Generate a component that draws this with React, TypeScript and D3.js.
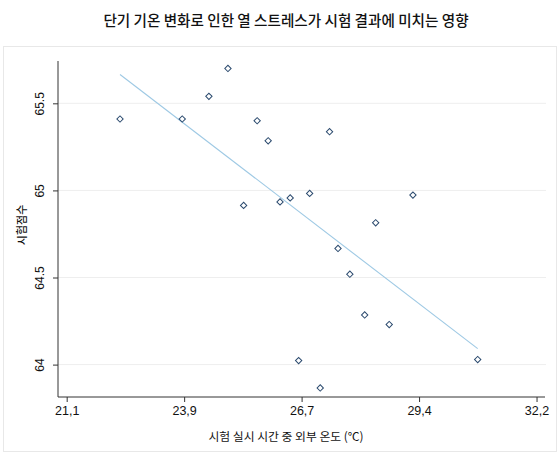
import { useEffect, useRef } from "react";
import * as d3 from "d3";

// outside temperature during the exam (°C)
const temps = [
    22.36, 23.83, 24.46, 24.91, 25.6, 25.86, 25.28, 26.14, 26.38, 26.84,
    27.31, 29.28, 28.4, 27.51, 27.79, 28.14, 28.72, 30.81, 26.58, 27.09,
];
// exam score
const scores = [
    65.41, 65.41, 65.54, 65.7, 65.4, 65.285, 64.914, 64.934, 64.957, 64.983,
    65.337, 64.973, 64.814, 64.667, 64.519, 64.285, 64.23, 64.029, 64.023, 63.866,
];

const xTicks = [21.1, 23.875, 26.65, 29.425, 32.2];
const xTickLabels = ["21,1", "23,9", "26,7", "29,4", "32,2"];
const yTicks = [64, 64.5, 65, 65.5];
const yTickLabels = ["64", "64.5", "65", "65.5"];

const title = "단기 기온 변화로 인한 열 스트레스가 시험 결과에 미치는 영향";
const xTitle = "시험 실시 시간 중 외부 온도 (℃)";
const yTitle = "시험점수";

export default function App() {
    const svgRef = useRef<SVGSVGElement>(null);

    useEffect(() => {
        if (!svgRef.current) return;
        const width = 559;
        const left = 58;
        const right = 545;
        const top = 61;
        const bottom = 397;

        const svg = d3.select(svgRef.current);
        svg.selectAll("*").remove();

        const x = d3.scaleLinear().domain([20.895, 32.4]).range([left, right]);
        const y = d3.scaleLinear().domain([63.814, 65.743]).range([bottom, top]);

        // outer frame of the graph region
        svg.append("rect")
            .attr("x", 3.5)
            .attr("y", 46.5)
            .attr("width", width - 6)
            .attr("height", 405)
            .attr("fill", "none")
            .attr("stroke", "#e8e8e8");

        svg.append("text")
            .attr("x", 286)
            .attr("y", 26)
            .attr("text-anchor", "middle")
            .style("font-family", "'Noto Sans CJK KR', sans-serif")
            .style("font-size", "14.6px")
            .style("font-weight", 500)
            .style("fill", "#111")
            .text(title);

        // grid lines
        svg.append("g")
            .selectAll("line")
            .data(yTicks)
            .enter()
            .append("line")
            .attr("x1", left)
            .attr("x2", 546)
            .attr("y1", (d) => y(d))
            .attr("y2", (d) => y(d))
            .attr("stroke", "#eeeeee")
            .attr("stroke-width", 1);

        // y axis
        const yAxis = svg.append("g")
            .attr("transform", `translate(${left},0)`)
            .call(d3.axisLeft(y).tickValues(yTicks).tickSize(5).tickSizeOuter(0)
                .tickFormat((_, i) => yTickLabels[i]));
        yAxis.select(".domain").attr("d", `M0,${top}V${bottom}`).attr("stroke", "#333");
        yAxis.selectAll(".tick line").attr("stroke", "#333");
        yAxis.selectAll(".tick text")
            .attr("x", null)
            .attr("dy", null)
            .attr("transform", "translate(-14,0) rotate(-90)")
            .attr("text-anchor", "middle")
            .style("font-family", "'Liberation Sans', Arial, sans-serif")
            .style("font-size", "12px")
            .style("fill", "#111");

        // x axis
        const xAxis = svg.append("g")
            .attr("transform", `translate(0,${bottom})`)
            .call(d3.axisBottom(x).tickValues(xTicks).tickSize(5).tickSizeOuter(0)
                .tickFormat((_, i) => xTickLabels[i]));
        xAxis.select(".domain").attr("d", `M${left},0H${right}`).attr("stroke", "#333");
        xAxis.selectAll(".tick line").attr("stroke", "#333");
        xAxis.selectAll(".tick text")
            .attr("y", 9)
            .style("font-family", "'Liberation Sans', Arial, sans-serif")
            .style("font-size", "12.5px")
            .style("fill", "#111");

        svg.append("text")
            .attr("x", 286)
            .attr("y", 441)
            .attr("text-anchor", "middle")
            .style("font-family", "'Noto Sans CJK KR', sans-serif")
            .style("font-size", "11.8px")
            .style("fill", "#111")
            .text(xTitle);

        svg.append("text")
            .attr("transform", "translate(26,225) rotate(-90)")
            .attr("text-anchor", "middle")
            .style("font-family", "'Noto Sans CJK KR', sans-serif")
            .style("font-size", "11px")
            .style("font-weight", 500)
            .style("fill", "#111")
            .text(yTitle);

        // linear fit
        const mx = d3.mean(temps)!;
        const my = d3.mean(scores)!;
        const sxy = d3.sum(temps, (t, i) => (t - mx) * (scores[i] - my));
        const sxx = d3.sum(temps, (t) => (t - mx) * (t - mx));
        const slope = sxy / sxx;
        const intercept = my - slope * mx;
        const [xmin, xmax] = d3.extent(temps) as [number, number];
        const fit = d3.line<number>()
            .x((d) => x(d))
            .y((d) => y(intercept + slope * d));

        svg.append("path")
            .attr("d", fit([xmin, xmax]))
            .attr("fill", "none")
            .attr("stroke", "#9ec9e4")
            .attr("stroke-width", 1.1);

        const diamond = d3.symbol().type(d3.symbolSquare).size(20);
        svg.append("g")
            .selectAll("path")
            .data(temps)
            .enter()
            .append("path")
            .attr("d", diamond())
            .attr("transform", (d, i) => `translate(${x(d)},${y(scores[i])}) rotate(45)`)
            .attr("fill", "none")
            .attr("stroke", "#2b4a6e")
            .attr("stroke-width", 1);
    }, []);

    return (
        <svg
            ref={svgRef}
            width={559}
            height={459}
            viewBox="0 0 559 459"
            style={{ position: "absolute", left: 0, top: 0, background: "#fff" }}
        />
    );
}
